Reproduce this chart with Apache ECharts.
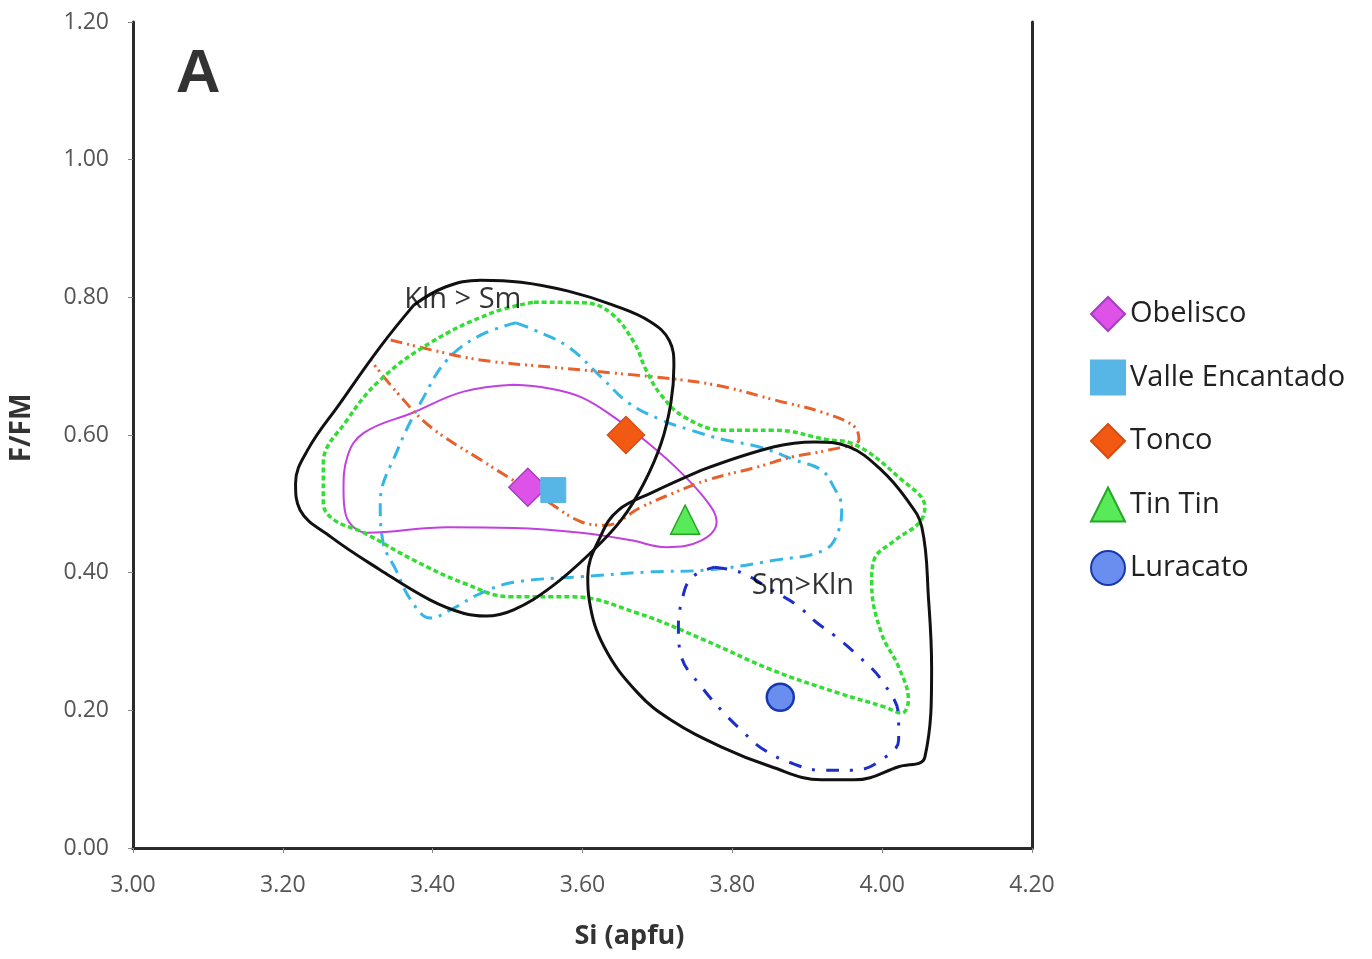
<!DOCTYPE html>
<html>
<head>
<meta charset="utf-8">
<title>F/FM vs Si</title>
<script src="https://cdn.jsdelivr.net/npm/echarts@6/dist/echarts.min.js"></script>
<style>
  html, body { margin: 0; padding: 0; background: #fff; }
  #chart { width: 1372px; height: 959px; }
</style>
</head>
<body>
<div id="chart"></div>
<script>
// axis ticks
const xTicks = [3.0, 3.2, 3.4, 3.6, 3.8, 4.0, 4.2]
const yTicks = [0.0, 0.2, 0.4, 0.6, 0.8, 1.0, 1.2]

// sample means (Si, F/FM)
const obelisco = [[3.527, 0.524]]
const valleEncantado = [[3.561, 0.520]]
const tonco = [[3.658, 0.600]]
const tinTin = [[3.737, 0.477]]
const luracato = [[3.864, 0.219]]

// field outlines
const klnField = [
  [3.375, 0.789], [3.417, 0.815], [3.464, 0.825], [3.518, 0.822], [3.581, 0.809],
  [3.640, 0.789], [3.690, 0.765], [3.716, 0.737], [3.722, 0.700], [3.718, 0.647],
  [3.705, 0.588], [3.682, 0.530], [3.652, 0.477], [3.611, 0.429], [3.558, 0.379],
  [3.508, 0.346], [3.471, 0.337], [3.441, 0.341], [3.397, 0.360], [3.330, 0.404],
  [3.264, 0.452], [3.223, 0.491], [3.217, 0.530], [3.233, 0.578], [3.277, 0.647],
  [3.330, 0.728], [3.375, 0.789]
]
const smField = [
  [3.759, 0.549], [3.856, 0.583], [3.910, 0.590], [3.955, 0.583], [3.999, 0.549],
  [4.033, 0.506], [4.053, 0.466], [4.062, 0.360], [4.066, 0.263], [4.057, 0.132],
  [4.022, 0.118], [3.963, 0.099], [3.919, 0.099], [3.852, 0.118], [3.785, 0.147],
  [3.718, 0.186], [3.674, 0.225], [3.629, 0.292], [3.609, 0.360], [3.607, 0.394],
  [3.625, 0.455], [3.648, 0.491], [3.692, 0.516], [3.759, 0.549]
]
const obeliscoField = [
  [3.508, 0.673], [3.554, 0.668], [3.598, 0.655], [3.642, 0.626], [3.688, 0.588],
  [3.732, 0.545], [3.768, 0.501], [3.779, 0.474], [3.759, 0.447], [3.712, 0.437],
  [3.665, 0.447], [3.598, 0.458], [3.508, 0.465], [3.420, 0.466], [3.313, 0.458],
  [3.284, 0.484], [3.281, 0.520], [3.286, 0.568], [3.308, 0.603], [3.375, 0.633],
  [3.441, 0.663], [3.508, 0.673]
]
const tinTinField = [
  [3.535, 0.793], [3.602, 0.792], [3.638, 0.777], [3.669, 0.734], [3.685, 0.694],
  [3.705, 0.658], [3.736, 0.626], [3.789, 0.607], [3.856, 0.607], [3.928, 0.593],
  [3.959, 0.588], [4.026, 0.535], [4.057, 0.495], [4.049, 0.472], [4.017, 0.447],
  [3.989, 0.418], [3.986, 0.385], [3.999, 0.312], [4.022, 0.263], [4.035, 0.215],
  [4.026, 0.196], [4.003, 0.205], [3.942, 0.225], [3.852, 0.259], [3.763, 0.302],
  [3.674, 0.341], [3.585, 0.365], [3.504, 0.365], [3.441, 0.385], [3.375, 0.418],
  [3.308, 0.458], [3.268, 0.477], [3.254, 0.501], [3.254, 0.559], [3.286, 0.622],
  [3.330, 0.680], [3.397, 0.734], [3.478, 0.777], [3.535, 0.793]
]
const valleField = [
  [3.511, 0.763], [3.535, 0.753], [3.581, 0.728], [3.625, 0.684], [3.661, 0.647],
  [3.705, 0.622], [3.745, 0.607], [3.789, 0.593], [3.835, 0.583], [3.883, 0.564],
  [3.919, 0.549], [3.935, 0.525], [3.946, 0.495], [3.942, 0.462], [3.923, 0.433],
  [3.856, 0.418], [3.768, 0.404], [3.688, 0.401], [3.598, 0.394], [3.508, 0.386],
  [3.464, 0.370], [3.424, 0.346], [3.397, 0.334], [3.371, 0.360], [3.351, 0.404],
  [3.334, 0.443], [3.330, 0.501], [3.353, 0.578], [3.388, 0.655], [3.420, 0.710],
  [3.464, 0.745], [3.511, 0.763]
]
const toncoField = [
  [3.344, 0.738], [3.397, 0.724], [3.464, 0.709], [3.554, 0.699], [3.642, 0.690],
  [3.732, 0.680], [3.789, 0.670], [3.856, 0.651], [3.923, 0.632], [3.963, 0.612],
  [3.969, 0.593], [3.928, 0.578], [3.879, 0.568], [3.835, 0.554], [3.768, 0.535],
  [3.722, 0.516], [3.678, 0.495], [3.631, 0.469], [3.598, 0.474], [3.554, 0.503],
  [3.464, 0.564], [3.397, 0.612], [3.353, 0.661], [3.317, 0.709]
]
const luracatoField = [
  [3.776, 0.408], [3.812, 0.400], [3.852, 0.375], [3.886, 0.353], [3.912, 0.328],
  [3.936, 0.309], [3.969, 0.278], [3.999, 0.244], [4.022, 0.190], [4.022, 0.157],
  [4.003, 0.131], [3.963, 0.113], [3.919, 0.113], [3.875, 0.125], [3.839, 0.145],
  [3.816, 0.167], [3.789, 0.196], [3.759, 0.234], [3.732, 0.278], [3.728, 0.321],
  [3.732, 0.356], [3.745, 0.392], [3.776, 0.408]
]

// text annotations
const panelLabels = [
  { value: [3.057, 1.123], name: 'A', size: 62 },
  { value: [3.362, 0.796], name: 'Kln > Sm', size: 29 },
  { value: [3.826, 0.381], name: 'Sm>Kln', size: 29 }
]

const chartInstance = echarts.init(document.getElementById('chart'))

const outline = (name, data, color, width, type) => ({
  name: name,
  type: 'line',
  data: data,
  smooth: 0.4,
  symbol: 'none',
  silent: true,
  z: 2,
  lineStyle: { color: color, width: width, type: type }
})

const marker = (name, data, symbol, size, fill, border, bw) => ({
  name: name,
  type: 'scatter',
  data: data,
  symbol: symbol,
  symbolSize: size,
  z: 5,
  itemStyle: { color: fill, borderColor: border, borderWidth: bw, opacity: 1 }
})

const axisLine = { show: true, lineStyle: { color: '#2b2b2b', width: 3 } }

const option = {
  animation: false,
  textStyle: { fontFamily: 'Open Sans' },
  grid: { left: 133, right: 340, top: 22, bottom: 111 },
  legend: {
    data: ['Obelisco', 'Valle Encantado', 'Tonco', 'Tin Tin', 'Luracato'],
    orient: 'vertical',
    left: 1085,
    top: 291,
    itemWidth: 34,
    itemHeight: 34,
    itemGap: 27.5,
    textStyle: { fontSize: 29, color: '#222', fontFamily: 'Open Sans' }
  },
  xAxis: [
    {
      type: 'value',
      min: xTicks[0],
      max: xTicks[xTicks.length - 1],
      interval: 0.2,
      name: 'Si (apfu)',
      nameLocation: 'middle',
      nameGap: 75,
      nameTextStyle: { fontSize: 27, fontWeight: 'bold', color: '#333', padding: [0, 0, 0, 94] },
      axisLine: axisLine,
      axisTick: { show: true, length: 5, lineStyle: { color: '#888' } },
      axisLabel: { fontSize: 23, color: '#555', margin: 26, formatter: v => v.toFixed(2) },
      splitLine: { show: false }
    },
    {
      type: 'value',
      position: 'top',
      min: xTicks[0],
      max: xTicks[xTicks.length - 1],
      axisLine: axisLine,
      axisTick: { show: false },
      axisLabel: { show: false },
      splitLine: { show: false }
    }
  ],
  yAxis: [
    {
      type: 'value',
      min: yTicks[0],
      max: yTicks[yTicks.length - 1],
      interval: 0.2,
      name: 'F/FM',
      nameLocation: 'middle',
      nameGap: 97,
      nameTextStyle: { fontSize: 28, fontWeight: 'bold', color: '#333', padding: [0, 0, 0, 14] },
      axisLine: axisLine,
      axisTick: { show: true, length: 5, lineStyle: { color: '#888' } },
      axisLabel: { fontSize: 23, color: '#555', margin: 24, formatter: v => v.toFixed(2) },
      splitLine: { show: false }
    },
    {
      type: 'value',
      position: 'right',
      min: yTicks[0],
      max: yTicks[yTicks.length - 1],
      axisLine: axisLine,
      axisTick: { show: false },
      axisLabel: { show: false },
      splitLine: { show: false }
    }
  ],
  series: [
    outline('obelisco-field', obeliscoField, '#C23FE0', 2, 'solid'),
    outline('valle-field', valleField, '#35B6E6', 3, [13, 7, 3, 7]),
    outline('tonco-field', toncoField, '#E8602A', 3, [12, 5, 2, 4, 2, 5]),
    outline('tintin-field', tinTinField, '#33DD33', 3.5, [5, 3]),
    outline('luracato-field', luracatoField, '#1E2FC8', 3, [13, 11, 3, 11]),
    outline('kln-field', klnField, '#111', 3, 'solid'),
    outline('sm-field', smField, '#111', 3, 'solid'),
    marker('Obelisco', obelisco, 'diamond', 38, '#DE52E8', '#A63CC4', 1.5),
    marker('Valle Encantado', valleEncantado, 'rect', 25, '#58B6E6', '#58B6E6', 1),
    marker('Tonco', tonco, 'diamond', 37, '#F25A14', '#D84C10', 1.5),
    marker('Tin Tin', tinTin, 'triangle', 29, '#58EA58', '#24A824', 1.5),
    marker('Luracato', luracato, 'circle', 27, '#6A8EF0', '#1838B0', 2.5),
    {
      name: 'labels',
      type: 'scatter',
      silent: true,
      symbolSize: 1,
      itemStyle: { color: 'rgba(0,0,0,0)' },
      z: 6,
      data: panelLabels.map(d => ({
        value: d.value,
        name: d.name,
        label: {
          show: true,
          formatter: '{b}',
          position: 'inside',
          align: 'left',
          verticalAlign: 'middle',
          fontSize: d.size,
          fontWeight: d.size > 40 ? 'bold' : 'normal',
          fontFamily: d.size > 40 ? 'Liberation Sans' : 'Open Sans',
          color: '#000'
        }
      }))
    }
  ]
}

chartInstance.setOption(option)
</script>
</body>
</html>
